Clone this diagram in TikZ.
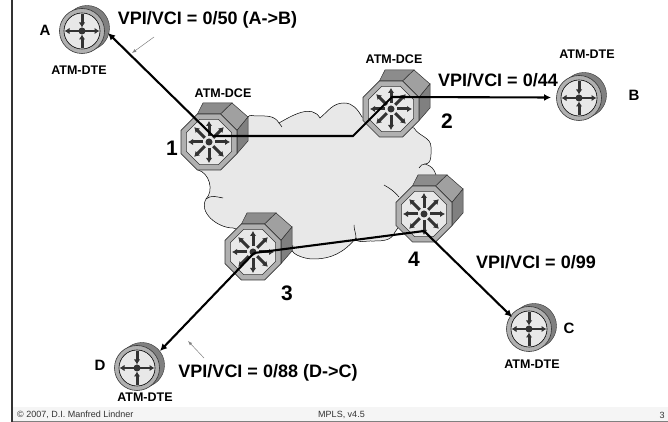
\documentclass[tikz,border=0pt]{standalone}
\usepackage{fontspec}
\setmainfont{Liberation Sans}
\usetikzlibrary{shapes.geometric, arrows.meta}
\definecolor{ringgray}{HTML}{B0B0B0}
\definecolor{facegray}{HTML}{E8E8E8}
\definecolor{topgray}{HTML}{8C8C8C}
\definecolor{sidegray}{HTML}{A0A0A0}
\definecolor{backgray}{HTML}{808080}
\definecolor{arrowgray}{HTML}{333333}
\tikzset{
  boxface/.style={draw=arrowgray, line width=0.5pt},
  dceouter/.style={regular polygon, regular polygon sides=8, minimum size=60.6pt, inner sep=0pt, outer sep=0pt, draw=arrowgray, fill=ringgray, line width=0.6pt},
  dceinner/.style={regular polygon, regular polygon sides=8, minimum size=49pt, inner sep=0pt, outer sep=0pt, draw=arrowgray, fill=facegray, line width=0.6pt},
  dteouter/.style={circle, minimum size=45pt, inner sep=0pt, draw=arrowgray, fill=ringgray, line width=0.6pt},
  dteinner/.style={circle, minimum size=36pt, inner sep=0pt, draw=black, fill=facegray, line width=0.6pt},
  dteback/.style={circle, minimum size=45pt, inner sep=0pt, fill=backgray, draw=arrowgray, line width=0.4pt},
  hub/.style={circle, minimum size=7pt, inner sep=0pt, fill=arrowgray},
  spoke/.style={-{Latex[length=5pt,width=6.5pt]}, line width=3pt, draw=arrowgray},
  flat/.style={-{Latex[length=5pt,width=6.5pt]}, line width=2pt, draw=arrowgray},
  link/.style={draw=black, line width=2.1pt, line join=miter},
  linkend/.style={-{Latex[length=7pt,width=7pt]}},
  pointer/.style={-latex, draw=gray, line width=0.5pt},
  tag/.style={font=\bfseries\fontsize{12.5}{14}\selectfont, inner sep=0pt},
  letter/.style={font=\bfseries\fontsize{15}{16}\selectfont, inner sep=0pt},
  number/.style={font=\bfseries\fontsize{21}{22}\selectfont, inner sep=0pt},
  vpi/.style={font=\bfseries\fontsize{18}{20}\selectfont, inner sep=0pt},
  foot/.style={font=\fontsize{9}{10}\selectfont, text=arrowgray, inner sep=0pt},
  cloudline/.style={draw=black, line width=0.5pt}
}
\newcommand{\dcenode}[2]{
  \begin{scope}[shift={(#2)}]
    \filldraw[boxface, fill=topgray] (-11.6,28) -- (-6,39) -- (23,39) -- (11.6,28) -- cycle;
    \filldraw[boxface, fill=sidegray] (11.6,28) -- (23,39) -- (39,25) -- (28,11.6) -- cycle;
    \filldraw[boxface, fill=backgray] (28,11.6) -- (39,25) -- (39,1) -- (28,-11.6) -- cycle;
  \end{scope}
  \node[dceouter] (#1) at (#2) {};
  \node[dceinner] (#1i) at (#2) {};
  \foreach \a in {0,45,...,315}
    \draw[spoke] (#1) ++(\a:6pt) -- ++(\a:15pt);
  \node[hub] (#1h) at (#2) {};
}
\newcommand{\dtenode}[2]{
  \node[dteback] (#1b) at ([shift={(5,3)}]#2) {};
  \node[dteouter] (#1) at (#2) {};
  \node[dteinner] (#1i) at (#2) {};
  \foreach \a in {0,180}
    \draw[flat] (#1) ++(\a:3pt) -- ++(\a:14.5pt);
  \foreach \a in {90,270}
    \draw[spoke] (#1) ++(\a:17pt) -- ++(\a+180:13.5pt);
  \node[hub] (#1h) at (#2) {};
}
\begin{document}
\begin{tikzpicture}[x=1pt, y=1pt]
  \useasboundingbox (0,0) rectangle (668,422);
  \fill[white] (0,0) rectangle (668,422);
  \fill[black!4] (13,1) rectangle (668,15);
  \draw[gray, line width=1pt] (12,0.5) -- (668,0.5);
  \draw[black!80, line width=1.6pt] (12,0) -- (12,422);

  \filldraw[cloudline, fill=facegray] (198,252) to[bend left=60] (206,223)
    to[out=240, in=180] (233,194) -- (293,176)
    to[out=230, in=180] (313,163) to[out=0, in=230] (356,184)
    to[out=270, in=180] (370,181) to[out=0, in=250] (395,190)
    -- (436,247) to[bend right=30] (425,258)
    to[out=0, in=270] (431,275) to[out=90, in=300] (414,294)
    -- (362,305) to[out=120, in=0] (344,319) to[out=180, in=40] (320,304)
    to[out=120, in=30] (279,299) to[out=120, in=0] (256,306) to[out=180, in=60] (248,305)
    -- (208,300) -- cycle;
  \draw[cloudline] (206,223) to[out=40, in=170] (223,224);
  \draw[cloudline] (384,237) to[out=330, in=130] (399,225);
  \draw[cloudline] (425,258) to[out=180, in=60] (419,254);
  \draw[cloudline] (356,184) to[out=90, in=270] (354,197);
  \draw[cloudline] (279,299) to[out=330, in=150] (282,295);

  \dtenode{dteA}{82,391}
  \dtenode{dteB}{579,324}
  \dtenode{dteC}{529,93}
  \dtenode{dteD}{137,54}
  \dcenode{dce1}{209,280}
  \dcenode{dce2}{391,313}
  \dcenode{dce3}{253,170}
  \dcenode{dce4}{424,208}

  \coordinate (endA) at (108,389);
  \coordinate (endB) at (551,324.5);
  \coordinate (endC) at (512,105);
  \coordinate (endD) at (160,71);
  \coordinate (turn1) at (213,286);
  \coordinate (turn2) at (353,286);
  \coordinate (turn3) at (392,325);
  \coordinate (turn4) at (254,169);
  \coordinate (turn5) at (424,191);
  \draw[link, linkend] (turn1) -- (endA);
  \draw[link, linkend] (turn1) -- (turn2) -- (turn3) -- (endB);
  \draw[link, linkend] (turn4) -- (endD);
  \draw[link] (turn5) -- (turn4);
  \draw[link, linkend] (turn5) -- (endC);

  \coordinate (ptrA) at (154,385);
  \coordinate (ptrAend) at (132,369);
  \coordinate (ptrD) at (204,64);
  \coordinate (ptrDend) at (188,81);
  \draw[pointer] (ptrA) -- (ptrAend);
  \draw[pointer] (ptrD) -- (ptrDend);

  \node[letter] (lblA) at (45,392) {A};
  \node[letter] (lblB) at (634,327) {B};
  \node[letter] (lblC) at (569,94) {C};
  \node[letter] (lblD) at (100,57) {D};
  \node[tag] (tagA) at (79,352) {ATM-DTE};
  \node[tag] (tagB) at (587,368) {ATM-DTE};
  \node[tag] (tagC) at (532,58) {ATM-DTE};
  \node[tag] (tagD) at (145,25) {ATM-DTE};
  \node[tag] (tag1) at (223,329) {ATM-DCE};
  \node[tag] (tag2) at (394,363) {ATM-DCE};
  \node[number] (num1) at (172,274) {1};
  \node[number] (num2) at (447,301) {2};
  \node[number] (num3) at (287,129) {3};
  \node[number] (num4) at (414,163) {4};
  \node[vpi] (vpiA) at (207.5,402) {VPI/VCI = 0/50 (A->B)};
  \node[vpi] (vpiB) at (498,342) {VPI/VCI = 0/44};
  \node[vpi] (vpiC) at (536,160) {VPI/VCI = 0/99};
  \node[vpi] (vpiD) at (268,49) {VPI/VCI = 0/88 (D->C)};
  \node[foot, anchor=west] (footL) at (17,7) {© 2007, D.I. Manfred Lindner};
  \node[foot] (footM) at (341.5,7) {MPLS, v4.5};
  \node[foot] (footR) at (662,7) {3};
\end{tikzpicture}
\end{document}
